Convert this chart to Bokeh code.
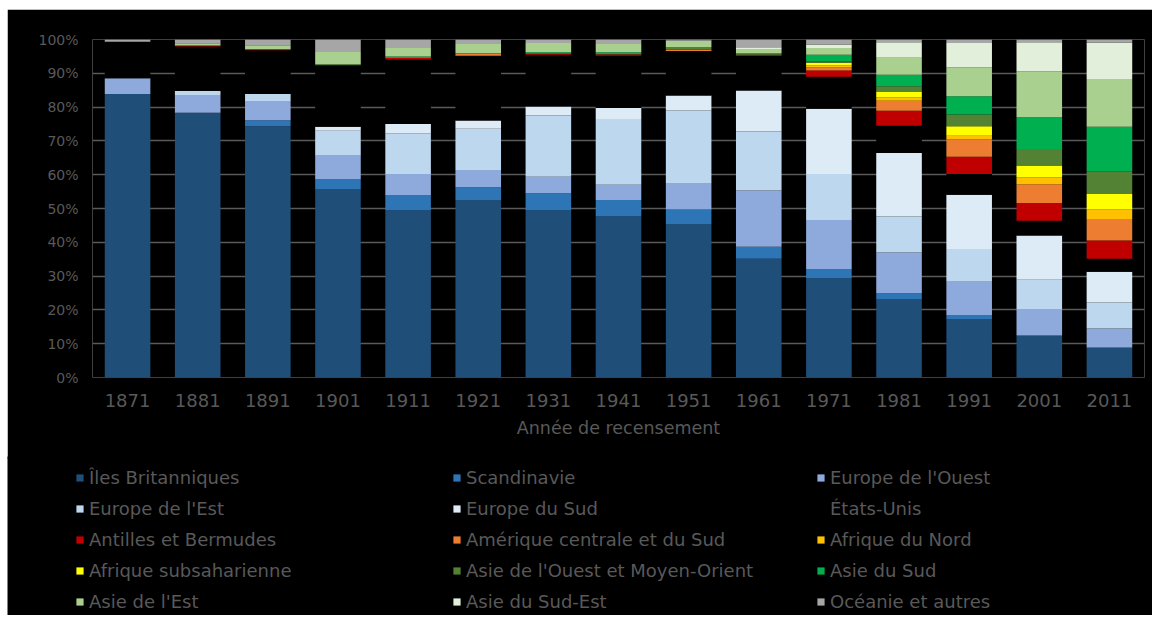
from bokeh.plotting import figure
from bokeh.models import (Legend, LegendItem, Range1d, FactorRange, FixedTicker,
                          PrintfTickFormatter, ColumnDataSource)
from bokeh.embed import file_html
from bokeh.resources import INLINE

years = ["1871", "1881", "1891", "1901", "1911", "1921", "1931", "1941",
         "1951", "1961", "1971", "1981", "1991", "2001", "2011"]

iles_britanniques = [83.9, 78.3, 74.3, 55.8, 49.4, 52.5, 49.4, 47.6, 45.4, 35.1, 29.3, 23.2, 17.3, 12.1, 8.6]
scandinavie       = [0.0, 0.0, 1.8, 2.9, 4.6, 3.8, 5.1, 4.9, 4.3, 3.6, 2.8, 1.7, 1.2, 0.5, 0.3]
europe_ouest      = [4.6, 5.3, 5.5, 6.9, 6.2, 5.1, 4.9, 4.5, 7.6, 16.6, 14.5, 12.1, 9.8, 7.7, 5.6]
europe_est        = [0.0, 1.2, 2.3, 7.4, 12.1, 12.2, 18.1, 19.5, 21.7, 17.5, 13.6, 10.6, 9.7, 8.6, 7.7]
europe_sud        = [0.0, 0.0, 0.0, 1.2, 2.7, 2.4, 2.7, 3.2, 4.4, 12.1, 19.3, 18.8, 16.1, 13.1, 9.1]
etats_unis        = [10.8, 13.1, 12.9, 18.2, 19.1, 19.2, 15.3, 15.5, 13.2, 10.2, 9.5, 8.1, 6.1, 4.4, 3.8]
antilles          = [0.0, 0.3, 0.3, 0.0, 0.4, 0.0, 0.3, 0.4, 0.0, 0.4, 1.8, 4.4, 5.1, 5.2, 5.4]
amerique_cs       = [0.0, 0.0, 0.0, 0.0, 0.0, 0.5, 0.0, 0.0, 0.4, 0.0, 1.0, 3.0, 5.2, 5.6, 6.4]
afrique_nord      = [0.0, 0.0, 0.0, 0.0, 0.0, 0.0, 0.0, 0.0, 0.0, 0.0, 0.5, 1.0, 1.0, 2.0, 2.8]
afrique_subsah    = [0.0, 0.0, 0.0, 0.0, 0.0, 0.0, 0.0, 0.0, 0.0, 0.0, 0.8, 1.7, 2.8, 3.5, 4.6]
asie_ouest        = [0.0, 0.0, 0.0, 0.3, 0.0, 0.0, 0.0, 0.0, 0.7, 0.2, 0.4, 1.6, 3.5, 4.9, 6.7]
asie_sud          = [0.0, 0.0, 0.0, 0.0, 0.5, 0.3, 0.4, 0.6, 0.0, 0.3, 2.0, 3.4, 5.4, 9.4, 13.2]
asie_est          = [0.0, 0.7, 1.2, 3.6, 2.5, 2.7, 2.8, 2.5, 1.9, 1.2, 2.0, 5.0, 8.6, 13.6, 14.1]
asie_sud_est      = [0.0, 0.0, 0.0, 0.0, 0.0, 0.0, 0.0, 0.0, 0.0, 0.5, 1.0, 4.6, 7.2, 8.6, 10.8]
oceanie           = [0.7, 1.1, 1.7, 3.7, 2.5, 1.3, 1.0, 1.3, 0.4, 2.3, 1.5, 0.8, 1.0, 0.8, 0.9]

labels = ["Îles Britanniques", "Scandinavie", "Europe de l'Ouest", "Europe de l'Est",
          "Europe du Sud", "États-Unis", "Antilles et Bermudes",
          "Amérique centrale et du Sud", "Afrique du Nord", "Afrique subsaharienne",
          "Asie de l'Ouest et Moyen-Orient", "Asie du Sud", "Asie de l'Est",
          "Asie du Sud-Est", "Océanie et autres"]
values = [iles_britanniques, scandinavie, europe_ouest, europe_est, europe_sud,
          etats_unis, antilles, amerique_cs, afrique_nord, afrique_subsah,
          asie_ouest, asie_sud, asie_est, asie_sud_est, oceanie]
colors = ["#1F4E79", "#2E75B6", "#8EA9DB", "#BDD7EE", "#DDEBF7", "#000000",
          "#C00000", "#ED7D31", "#FFC000", "#FFFF00", "#548235", "#00B050",
          "#A9D08E", "#E2EFDA", "#A6A6A6"]

keys = ["s%d" % i for i in range(len(values))]
data = {"years": years}
for k, v in zip(keys, values):
    data[k] = v
source = ColumnDataSource(data)

TXT = "#595959"
FONT = "DejaVu Sans"
W = 1145

# ---- main chart ----
p = figure(x_range=FactorRange(*years), y_range=Range1d(0, 100),
           width=W, height=450, output_backend="svg", toolbar_location=None,
           background_fill_color="black", border_fill_color="black",
           outline_line_color=None,
           min_border_left=85, min_border_right=8, min_border_top=30,
           min_border_bottom=82, margin=(9, 0, 0, 7))

p.vbar_stack(keys, x="years", width=0.65, fill_color=colors,
             line_color=None, source=source)

p.xgrid.grid_line_color = None
p.ygrid.grid_line_color = "#5a5a5a"
p.ygrid.grid_line_width = 1.5

p.yaxis.ticker = FixedTicker(ticks=list(range(0, 101, 10)))
p.yaxis.formatter = PrintfTickFormatter(format="%d%%")
p.yaxis.axis_line_color = None
p.yaxis.major_tick_line_color = None
p.yaxis.minor_tick_line_color = None
p.yaxis.major_tick_out = 0
p.yaxis.major_label_standoff = 14
p.yaxis.major_label_text_font = FONT
p.yaxis.major_label_text_font_size = "14px"
p.yaxis.major_label_text_color = TXT

p.xaxis.axis_line_color = None
p.xaxis.major_tick_line_color = None
p.xaxis.minor_tick_line_color = None
p.xaxis.major_label_standoff = 10
p.xaxis.major_label_text_font = FONT
p.xaxis.major_label_text_font_size = "18px"
p.xaxis.major_label_text_color = TXT
p.xaxis.axis_label = "Année de recensement"
p.xaxis.axis_label_standoff = 8
p.xaxis.axis_label_text_font = FONT
p.xaxis.axis_label_text_font_size = "17.5px"
p.xaxis.axis_label_text_font_style = "normal"
p.xaxis.axis_label_text_color = TXT

# ---- legend panel: same series, drawn off-range so only the legend shows ----
pl = figure(x_range=FactorRange(*years), y_range=Range1d(1000, 1001),
            x_axis_type=None, y_axis_type=None,
            width=W, height=159, output_backend="svg", toolbar_location=None,
            background_fill_color="black", border_fill_color="black",
            outline_line_color=None,
            min_border_left=0, min_border_right=0, min_border_top=0,
            min_border_bottom=0, margin=(-3, 0, 0, 7))
leg_renderers = pl.vbar_stack(keys, x="years", width=0.65, fill_color=colors,
                              line_color=None, source=source)

col_x = [68, 445, 809]
for c in range(3):
    items = [LegendItem(label=labels[i], renderers=[leg_renderers[i]])
             for i in range(c, len(labels), 3)]
    leg = Legend(items=items, location=(col_x[c], 3),
                 orientation="vertical", padding=0, margin=0, spacing=10,
                 glyph_width=9, glyph_height=9, label_height=21,
                 label_standoff=5,
                 label_text_font=FONT, label_text_font_size="18px",
                 label_text_color=TXT,
                 background_fill_alpha=0, border_line_alpha=0)
    pl.add_layout(leg, "center")

open("out.html", "w").write(file_html([p, pl], INLINE))
